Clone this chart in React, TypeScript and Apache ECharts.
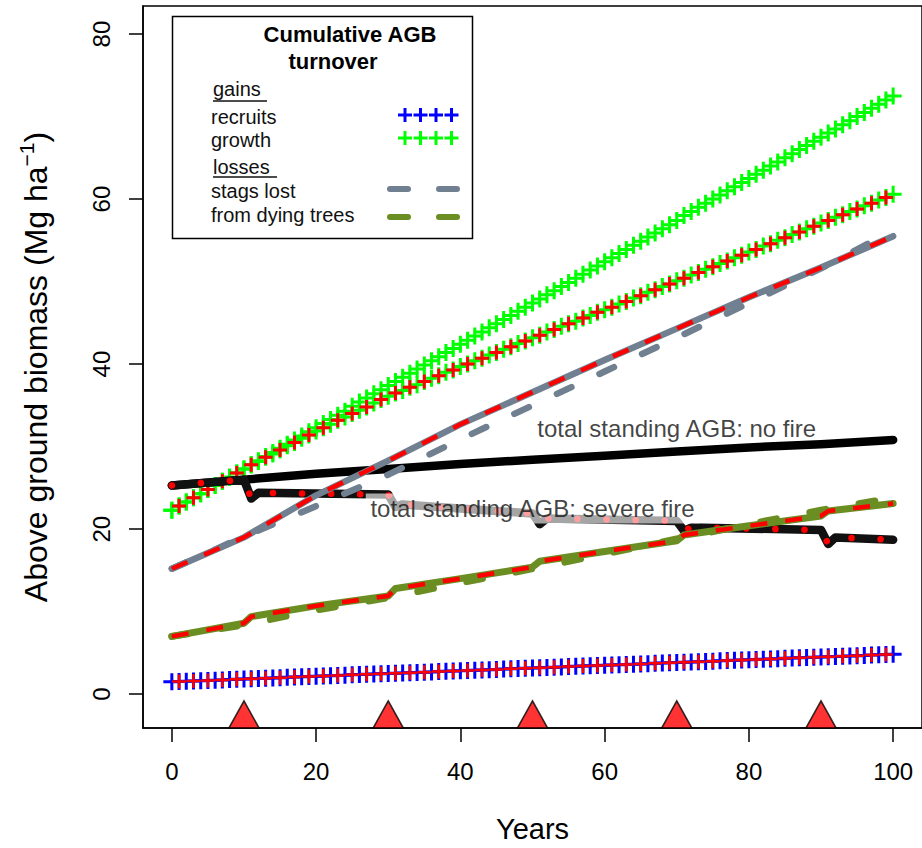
import React, { useEffect, useRef } from "react";
import * as echarts from "echarts";

const FONT = "'Liberation Sans', Arial, Helvetica, sans-serif";

// x domain: simulation years 0..100
const years: number[] = [
  0, 1, 2, 3, 4, 5, 6, 7, 8, 9, 10, 11, 12, 13, 14, 15, 16, 17, 18, 19, 20,
  21, 22, 23, 24, 25, 26, 27, 28, 29, 30, 31, 32, 33, 34, 35, 36, 37, 38, 39, 40,
  41, 42, 43, 44, 45, 46, 47, 48, 49, 50, 51, 52, 53, 54, 55, 56, 57, 58, 59, 60,
  61, 62, 63, 64, 65, 66, 67, 68, 69, 70, 71, 72, 73, 74, 75, 76, 77, 78, 79, 80,
  81, 82, 83, 84, 85, 86, 87, 88, 89, 90, 91, 92, 93, 94, 95, 96, 97, 98, 99, 100,
];

// cumulative growth, no fire (green +)
const growthNoFire: number[] = [
  22.3, 22.8, 23.3, 23.8, 24.3, 24.8, 25.3, 25.8, 26.3, 26.8,
  27.3, 27.8, 28.3, 28.8, 29.3, 29.8, 30.3, 30.8, 31.3, 31.8,
  32.3, 32.8, 33.3, 33.8, 34.3, 34.9, 35.4, 35.9, 36.4, 36.9,
  37.4, 37.9, 38.4, 38.9, 39.4, 39.9, 40.4, 40.9, 41.4, 41.9,
  42.4, 42.9, 43.4, 43.9, 44.4, 44.9, 45.4, 45.9, 46.4, 46.9,
  47.4, 47.9, 48.4, 48.9, 49.4, 49.9, 50.4, 50.9, 51.4, 51.9,
  52.4, 52.9, 53.4, 53.9, 54.4, 54.9, 55.4, 55.9, 56.4, 56.9,
  57.4, 58.0, 58.5, 59.0, 59.5, 60.0, 60.5, 61.0, 61.5, 62.0,
  62.5, 63.0, 63.5, 64.0, 64.5, 65.0, 65.5, 66.0, 66.5, 67.0,
  67.5, 68.0, 68.5, 69.0, 69.5, 70.0, 70.5, 71.0, 71.5, 72.0,
  72.5,
];

// cumulative growth, severe fire (green + with red +)
const growthFire: number[] = [
  22.3, 22.8, 23.3, 23.8, 24.3, 24.8, 25.3, 25.8, 26.3, 26.8,
  27.3, 27.8, 28.2, 28.7, 29.1, 29.6, 30.1, 30.5, 31.0, 31.4,
  31.9, 32.3, 32.7, 33.2, 33.6, 34.0, 34.4, 34.8, 35.3, 35.7,
  36.1, 36.5, 36.8, 37.2, 37.5, 37.9, 38.3, 38.6, 39.0, 39.3,
  39.7, 40.0, 40.4, 40.7, 41.1, 41.4, 41.8, 42.1, 42.5, 42.8,
  43.2, 43.5, 43.9, 44.2, 44.6, 44.9, 45.2, 45.6, 45.9, 46.3,
  46.6, 46.9, 47.3, 47.6, 48.0, 48.3, 48.7, 49.0, 49.4, 49.7,
  50.1, 50.4, 50.8, 51.1, 51.5, 51.8, 52.2, 52.5, 52.9, 53.2,
  53.6, 53.9, 54.3, 54.6, 55.0, 55.3, 55.7, 56.0, 56.4, 56.7,
  57.1, 57.4, 57.8, 58.1, 58.5, 58.8, 59.2, 59.5, 59.9, 60.2,
  60.6,
];

// cumulative recruits (blue +), fire run drawn on top in red
const recruits: number[] = [
  1.50, 1.53, 1.57, 1.60, 1.63, 1.67, 1.70, 1.73, 1.77, 1.80,
  1.84, 1.87, 1.90, 1.94, 1.97, 2.00, 2.04, 2.07, 2.10, 2.14,
  2.17, 2.20, 2.24, 2.27, 2.30, 2.34, 2.37, 2.40, 2.44, 2.47,
  2.50, 2.54, 2.57, 2.60, 2.64, 2.67, 2.70, 2.74, 2.77, 2.80,
  2.84, 2.87, 2.90, 2.94, 2.97, 3.00, 3.04, 3.07, 3.10, 3.14,
  3.17, 3.20, 3.24, 3.27, 3.30, 3.34, 3.37, 3.40, 3.44, 3.47,
  3.50, 3.54, 3.57, 3.60, 3.64, 3.67, 3.70, 3.74, 3.77, 3.80,
  3.84, 3.87, 3.90, 3.94, 3.97, 4.00, 4.04, 4.07, 4.10, 4.14,
  4.17, 4.20, 4.24, 4.27, 4.30, 4.34, 4.37, 4.40, 4.44, 4.47,
  4.50, 4.54, 4.57, 4.60, 4.64, 4.67, 4.70, 4.74, 4.77, 4.80,
  4.84,
];
const recruitsFire: number[] = recruits;

// [year, Mg/ha]
const stagsNoFire: number[][] = [
  [0, 15.2], [10, 19.1], [20, 22.8], [30, 26.6], [40, 30.9], [50, 35.0],
  [60, 39.1], [70, 43.2], [80, 47.4], [90, 51.6], [100, 56.2],
];
const stagsFire: number[][] = [
  [0, 15.2], [5, 17.1], [10, 19.0], [20, 24.1], [30, 28.3], [40, 32.7],
  [50, 36.6], [60, 40.5], [70, 44.3], [80, 48.1], [90, 51.7], [100, 55.5],
];
const dyingNoFire: number[][] = [
  [0, 7.0], [10, 8.4], [20, 10.2], [30, 11.7], [40, 13.5], [50, 15.2],
  [60, 17.0], [70, 18.8], [80, 20.6], [90, 22.3], [100, 23.8],
];
const dyingFire: number[][] = [
  [0, 7.0], [10, 8.6], [11, 9.4], [20, 10.7], [30, 11.9], [31, 12.8],
  [40, 14.0], [50, 15.4], [51, 16.1], [60, 17.3], [70, 18.6], [71, 19.3],
  [80, 20.4], [90, 21.6], [91, 22.2], [100, 23.1],
];
const totalNoFire: number[][] = [
  [0, 25.3], [10, 26.0], [20, 26.7], [30, 27.3], [40, 27.9], [50, 28.4],
  [60, 28.9], [70, 29.4], [80, 29.9], [90, 30.3], [100, 30.8],
];
const totalFire: number[][] = [
  [0, 25.3], [10, 26.0], [11, 23.7], [12, 24.4], [30, 24.2], [31, 22.7],
  [32, 23.0], [50, 21.9], [51, 20.6], [52, 21.3], [70, 21.0], [71, 19.8],
  [72, 20.2], [90, 19.9], [91, 18.2], [92, 19.0], [100, 18.7],
];

const fireYears: number[] = [10, 30, 50, 70, 90];
const xTicks: number[] = [0, 20, 40, 60, 80, 100];
const yTicks: number[] = [0, 20, 40, 60, 80];

const annotations = [
  { text: "total standing AGB: no fire", at: [70, 32.2], shaded: false },
  { text: "total standing AGB: severe fire", at: [50, 22.5], shaded: true },
];

const GREEN = "#00ff00";
const BLUE = "#0000ff";
const RED = "#ff0000";
const GREY = "#708090";
const OLIVE = "#6b8e23";
const CROSS = "path://M0,8L16,8M8,0L8,16";

function pairs(ys: number[]): number[][] {
  return ys.map((v, i) => [years[i], v]);
}
function oddYears(ys: number[]): number[][] {
  return ys.map((v, i) => [years[i], v]).filter((p) => p[0] % 2 === 1);
}

export default function App() {
  const ref = useRef<HTMLDivElement>(null);
  useEffect(() => {
    document.body.style.margin = "0";
    const chart = echarts.init(ref.current!, null, { renderer: "svg" });

    const line = (data: number[][], color: string, width: number, type: any, cap = "round") => ({
      type: "line",
      data,
      showSymbol: false,
      symbol: "none",
      silent: true,
      lineStyle: { color, width, type, cap, join: "round" },
    });
    const crosses = (data: number[][], color: string, size: number, width: number) => ({
      type: "scatter",
      data,
      symbol: CROSS,
      symbolSize: size,
      silent: true,
      itemStyle: { color: "transparent", borderColor: color, borderWidth: width, opacity: 1 },
    });

    const legendGraphics: any[] = [
      {
        type: "rect",
        shape: { x: 172.5, y: 16.5, width: 300, height: 222 },
        style: { fill: "#fff", stroke: "#000", lineWidth: 1.5 },
        z: 100,
      },
      { type: "text", x: 350, y: 34, style: { text: "Cumulative AGB", font: `bold 22px ${FONT}`, fill: "#000", align: "center", verticalAlign: "middle" }, z: 101 },
      { type: "text", x: 333, y: 61, style: { text: "turnover", font: `bold 22px ${FONT}`, fill: "#000", align: "center", verticalAlign: "middle" }, z: 101 },
      { type: "text", x: 213, y: 89, style: { text: "gains", font: `20px ${FONT}`, fill: "#111", align: "left", verticalAlign: "middle" }, z: 101 },
      { type: "line", shape: { x1: 213, y1: 101, x2: 267, y2: 101 }, style: { stroke: "#111", lineWidth: 1.5 }, z: 101 },
      { type: "text", x: 211, y: 117, style: { text: "recruits", font: `20px ${FONT}`, fill: "#111", align: "left", verticalAlign: "middle" }, z: 101 },
      { type: "text", x: 211, y: 140, style: { text: "growth", font: `20px ${FONT}`, fill: "#111", align: "left", verticalAlign: "middle" }, z: 101 },
      { type: "text", x: 213, y: 167, style: { text: "losses", font: `20px ${FONT}`, fill: "#111", align: "left", verticalAlign: "middle" }, z: 101 },
      { type: "line", shape: { x1: 213, y1: 177, x2: 277, y2: 177 }, style: { stroke: "#111", lineWidth: 1.5 }, z: 101 },
      { type: "text", x: 211, y: 191, style: { text: "stags lost", font: `20px ${FONT}`, fill: "#111", align: "left", verticalAlign: "middle" }, z: 101 },
      { type: "text", x: 211, y: 215, style: { text: "from dying trees", font: `20px ${FONT}`, fill: "#111", align: "left", verticalAlign: "middle" }, z: 101 },
    ];
    const crossXs = [405, 420.5, 436, 451.5];
    const crossRows: [number, string][] = [[115, BLUE], [138, GREEN]];
    crossRows.forEach(([cy, col]) => {
      crossXs.forEach((cx) => {
        legendGraphics.push({ type: "line", shape: { x1: cx - 7, y1: cy, x2: cx + 7, y2: cy }, style: { stroke: col, lineWidth: 3 }, z: 101 });
        legendGraphics.push({ type: "line", shape: { x1: cx, y1: cy - 7, x2: cx, y2: cy + 7 }, style: { stroke: col, lineWidth: 3 }, z: 101 });
      });
    });
    const dashRows: [number, string][] = [[189, GREY], [217, OLIVE]];
    dashRows.forEach(([cy, col]) => {
      [[390, 408], [439, 457]].forEach(([a, b]) => {
        legendGraphics.push({ type: "line", shape: { x1: a, y1: cy, x2: b, y2: cy }, style: { stroke: col, lineWidth: 6, lineCap: "round" }, z: 101 });
      });
    });

    const option: any = {
      animation: false,
      backgroundColor: "#fff",
      grid: {
        left: 143,
        top: 6,
        width: 782.5,
        height: 722,
        show: true,
        borderColor: "#000",
        borderWidth: 1.5,
        backgroundColor: "transparent",
        containLabel: false,
      },
      xAxis: {
        type: "value",
        min: -4,
        max: 104,
        splitLine: { show: false },
        axisLine: { show: true, onZero: false, lineStyle: { color: "#000", width: 1.5 } },
        axisTick: { show: true, length: 14, customValues: xTicks, lineStyle: { color: "#000", width: 1.5 } },
        axisLabel: { customValues: xTicks, fontSize: 24, fontFamily: FONT, color: "#000", margin: 31 },
        name: "Years",
        nameLocation: "middle",
        nameGap: 86,
        nameTextStyle: { fontSize: 29, fontFamily: FONT, color: "#000", verticalAlign: "top" },
      },
      yAxis: {
        type: "value",
        min: -4.1,
        max: 83.4,
        splitLine: { show: false },
        axisLine: { show: true, onZero: false, lineStyle: { color: "#000", width: 1.5 } },
        axisTick: { show: true, length: 14, customValues: yTicks, lineStyle: { color: "#000", width: 1.5 } },
        axisLabel: { customValues: yTicks, fontSize: 24, fontFamily: FONT, color: "#000", rotate: 90, margin: 30 },
        name: "{a|Above ground biomass (Mg ha}{b|−1}{a|)}",
        nameLocation: "middle",
        nameGap: 87,
        nameRotate: 90,
        nameTextStyle: {
          fontSize: 32,
          fontFamily: FONT,
          color: "#000",
          rich: {
            a: { fontSize: 32, fontFamily: FONT, color: "#000", lineHeight: 40 },
            b: { fontSize: 21, fontFamily: FONT, color: "#000", lineHeight: 22, verticalAlign: "top" },
          },
        },
      },
      series: [
        line(totalNoFire, "#000", 8.5, "solid"),
        line(totalFire, "#111", 8.5, "solid"),
        line(totalFire, RED, 6.5, [0.1, 29]),
        line(stagsNoFire, GREY, 6.5, [16, 31]),
        line(stagsFire, GREY, 6.5, "solid"),
        line(stagsFire, RED, 4.5, [17, 18], "butt"),
        line(dyingNoFire, OLIVE, 7, [16, 34]),
        line(dyingFire, OLIVE, 7, "solid"),
        line(dyingFire, RED, 4.5, [17, 18], "butt"),
        crosses(pairs(growthNoFire), GREEN, 17, 3),
        crosses(pairs(growthFire), GREEN, 17, 3),
        crosses(oddYears(growthFire), RED, 14, 3),
        crosses(pairs(recruits), BLUE, 17, 3),
        crosses(oddYears(recruitsFire), RED, 14, 2.5),
        {
          type: "scatter",
          data: fireYears.map((y) => [y, -2.45]),
          symbol: "triangle",
          symbolSize: [30, 27],
          silent: true,
          itemStyle: { color: RED, borderColor: "#000", borderWidth: 1.5 },
          z: 5,
        },
        {
          type: "scatter",
          data: annotations.map((a) => ({
            value: a.at,
            name: a.text,
            label: a.shaded
              ? { backgroundColor: "rgba(255,255,255,0.78)", padding: [3, 4] }
              : { backgroundColor: "transparent" },
          })),
          symbolSize: 1,
          silent: true,
          itemStyle: { color: "transparent" },
          label: {
            show: true,
            position: "inside",
            formatter: (p: any) => p.name,
            fontSize: 24,
            fontFamily: FONT,
            color: "#111",
          },
          z: 6,
        },
      ],
      graphic: legendGraphics,
    };
    chart.setOption(option);
    return () => chart.dispose();
  }, []);
  return <div ref={ref} style={{ width: 922, height: 848, background: "#fff" }} />;
}
